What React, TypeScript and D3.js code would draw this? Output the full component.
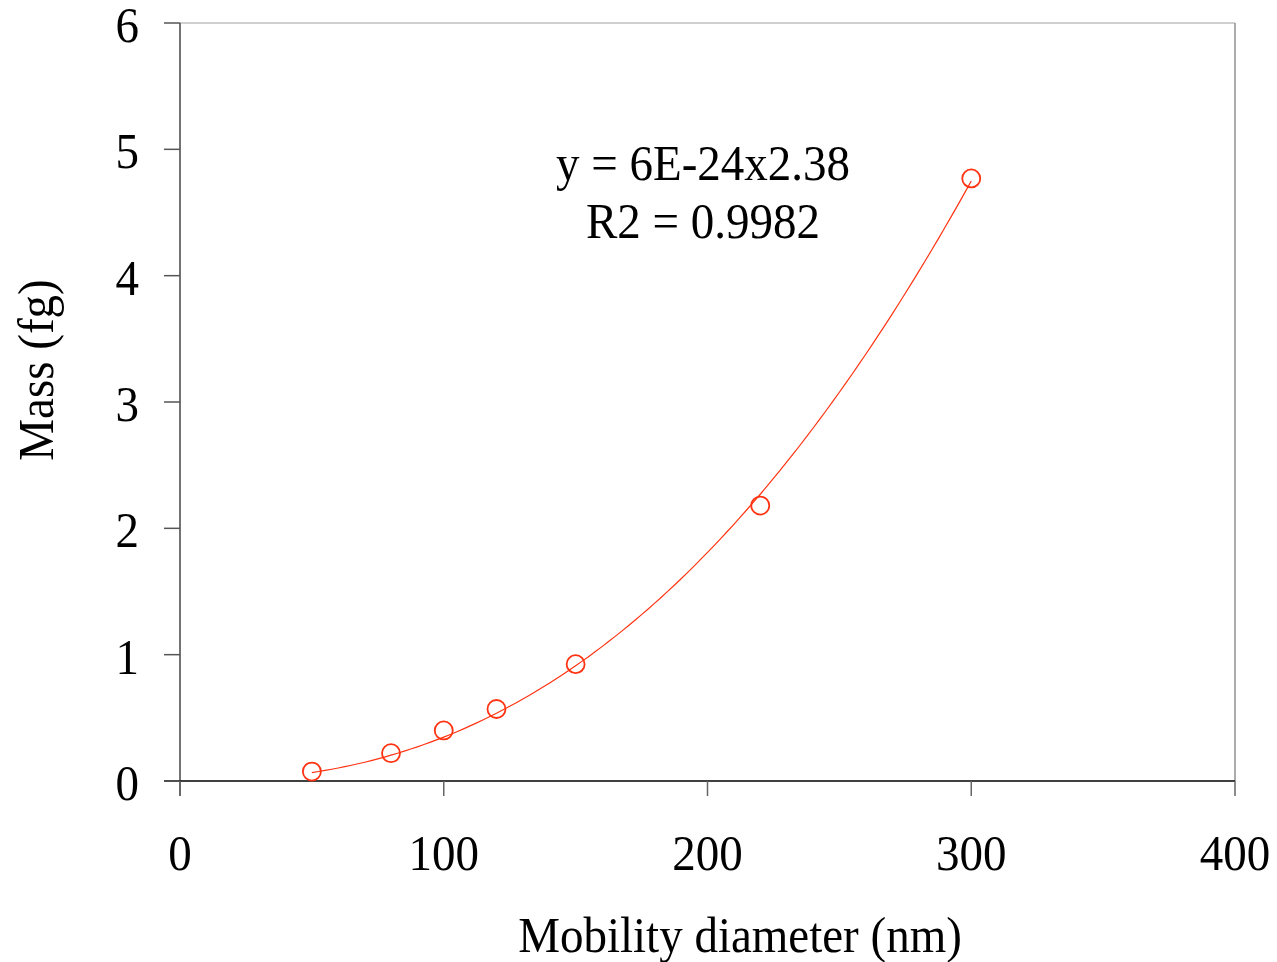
import React from "react";
import * as d3 from "d3";

const diameters = [50, 80, 100, 120, 150, 220, 300];
const masses = [0.075, 0.22, 0.4, 0.57, 0.925, 2.18, 4.77];
const xTicks = [0, 100, 200, 300, 400];
const yTicks = [0, 1, 2, 3, 4, 5, 6];
const equationLines = ["y = 6E-24x2.38", "R2 = 0.9982"];
// trendline y = a * x^b (x in nm, y in fg)
const fitCoef = 6.04e-6;
const fitExp = 2.38;

const W = 1277, H = 962;
const M = { left: 180, right: 1235, top: 23, bottom: 781 };
const RED = "#ff3311";
const FONT = "'Liberation Serif', 'Times New Roman', serif";
const FS = 47;

function T({ x, y, anchor = "middle", rotate = 0, children }: any) {
  return (
    <g transform={`translate(${x},${y}) rotate(${rotate}) scale(1,1.06)`}>
      <text x={0} y={0} textAnchor={anchor} fontSize={FS} fontFamily={FONT} fill="#000">
        {children}
      </text>
    </g>
  );
}

export default function App() {
  const x = d3.scaleLinear().domain([0, 400]).range([M.left, M.right]);
  const y = d3.scaleLinear().domain([0, 6]).range([M.bottom, M.top]);

  const fitX = d3.range(50, 300.01, 2.5);
  const line = d3
    .line<number>()
    .x((d) => x(d))
    .y((d) => y(fitCoef * Math.pow(d, fitExp)));

  return (
    <svg width={W} height={H} style={{ position: "absolute", left: 0, top: 0, background: "#fff" }}>
      <rect x={0} y={0} width={W} height={H} fill="#fff" />
      <line x1={M.left} x2={M.right} y1={M.top} y2={M.top} stroke="#c0c0c0" strokeWidth={1.5} />
      <line x1={M.right} x2={M.right} y1={M.top} y2={M.bottom} stroke="#909090" strokeWidth={1.5} />
      <line x1={M.left} x2={M.left} y1={M.top} y2={M.bottom + 15} stroke="#444" strokeWidth={1.5} />
      <line x1={M.left - 16} x2={M.right} y1={M.bottom} y2={M.bottom} stroke="#000" strokeWidth={1.5} />
      {yTicks.map((t) => (
        <g key={"y" + t}>
          <line x1={M.left - 16} x2={M.left} y1={y(t)} y2={y(t)} stroke="#555" strokeWidth={1.5} />
          <T x={139} y={y(t) + 19} anchor="end">{t}</T>
        </g>
      ))}
      {xTicks.map((t) => (
        <g key={"x" + t}>
          <line x1={x(t)} x2={x(t)} y1={M.bottom} y2={M.bottom + 15} stroke="#666" strokeWidth={1.5} />
          <T x={x(t)} y={870}>{t}</T>
        </g>
      ))}
      <path d={line(fitX)!} fill="none" stroke={RED} strokeWidth={1.2} />
      {diameters.map((d, i) => (
        <circle key={i} cx={x(d)} cy={y(masses[i])} r={9} fill="none" stroke={RED} strokeWidth={1.8} />
      ))}
      {equationLines.map((s, i) => (
        <T key={i} x={703} y={180 + i * 58}>{s}</T>
      ))}
      <T x={740} y={952}>Mobility diameter (nm)</T>
      <T x={53} y={370} rotate={-90}>Mass (fg)</T>
    </svg>
  );
}
